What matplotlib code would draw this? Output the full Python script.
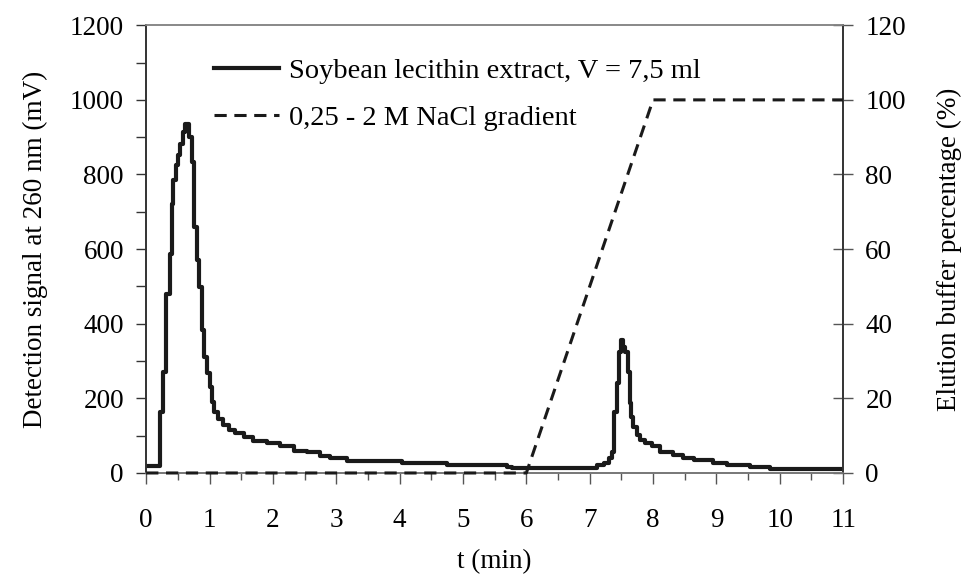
import matplotlib
matplotlib.use("Agg")
import matplotlib.pyplot as plt
from matplotlib.ticker import MultipleLocator

# Данные хроматограммы (время, мин / сигнал, мВ) - ступенчатая запись
t_signal = [0, 0.22, 0.26, 0.32, 0.37, 0.41, 0.43, 0.47, 0.51, 0.54,
            0.58, 0.62, 0.68, 0.72, 0.76, 0.80, 0.84, 0.88, 0.92, 0.96,
            1.00, 1.04, 1.07, 1.14, 1.22, 1.30, 1.40, 1.54, 1.69, 1.90,
            2.11, 2.33, 2.54, 2.75, 2.90, 3.17, 4.03, 4.75, 5.69, 5.77,
            7.11, 7.22, 7.30, 7.35, 7.39, 7.43, 7.47, 7.50, 7.53, 7.56,
            7.60, 7.63, 7.65, 7.69, 7.75, 7.80, 7.88, 7.98, 8.11, 8.32,
            8.48, 8.64, 8.95, 9.16, 9.53, 9.85, 11.0]
signal = [20, 164, 271, 481, 588, 722, 785, 825, 852, 883,
          914, 935, 901, 834, 660, 571, 499, 383, 312, 267,
          231, 191, 164, 146, 129, 115, 106, 97, 87, 80,
          71, 60, 56, 45, 39, 33, 28, 21, 17, 14,
          21, 28, 39, 57, 164, 240, 325, 356, 338, 325,
          271, 187, 151, 124, 102, 88, 80, 71, 57, 48,
          39, 35, 28, 21, 15, 10, 10]

# градиент элюирующего буфера (%)
t_gradient = [0, 6.0, 8.0, 11.0]
gradient = [0, 0, 100, 100]

label_signal = "Soybean lecithin extract, V = 7,5 ml"
label_gradient = "0,25 - 2 M NaCl gradient"

plt.rcParams["font.family"] = ["Liberation Serif", "DejaVu Serif"]
plt.rcParams["font.size"] = 19.5

fig, ax = plt.subplots(figsize=(9.68, 5.74), dpi=100)
fig.subplots_adjust(left=0.151, right=0.871, top=0.956, bottom=0.176)
ax2 = ax.twinx()

l1, = ax.plot(t_signal, signal, drawstyle="steps-post", color="#1a1a1a", lw=3.0)
l2, = ax2.plot(t_gradient, gradient, color="#1a1a1a", lw=2.2, ls=(0, (4, 2.5)),
               clip_on=False, zorder=5)

ax.set_xlim(0, 11)
ax.set_ylim(0, 1200)
ax2.set_ylim(0, 120)

ax.xaxis.set_major_locator(MultipleLocator(1))
ax.xaxis.set_minor_locator(MultipleLocator(0.5))
ax.yaxis.set_major_locator(MultipleLocator(200))
ax.yaxis.set_minor_locator(MultipleLocator(100))
ax2.yaxis.set_major_locator(MultipleLocator(20))

ax.tick_params(axis="x", which="major", direction="out", length=8, width=1, color="#555555", pad=17)
ax.tick_params(axis="x", which="minor", direction="out", length=5, width=1, color="#555555")
ax.tick_params(axis="y", which="both", direction="out", length=7, width=1, color="#333333", pad=9)
ax2.tick_params(axis="y", direction="inout", length=14, width=1, color="#555555", pad=9)

for a in (ax, ax2):
    for side in ("top", "right", "left", "bottom"):
        a.spines[side].set_linewidth(1.2)
    a.spines["top"].set_color("#888888")
    a.spines["bottom"].set_color("#777777")
    a.spines["left"].set_color("#333333")
    a.spines["right"].set_color("#333333")

ax.set_xlabel("t (min)", labelpad=12)
ax.set_ylabel("Detection signal at 260 nm (mV)", labelpad=16)
ax2.set_ylabel("Elution buffer percentage (%)", labelpad=22, rotation=90)

ax.legend([l1, l2], [label_signal, label_gradient], loc="upper left",
          bbox_to_anchor=(0.06, 0.985), frameon=False, handlelength=2.3,
          handletextpad=0.35, labelspacing=0.75, fontsize=20.5)

fig.savefig("out.png", dpi=100)
